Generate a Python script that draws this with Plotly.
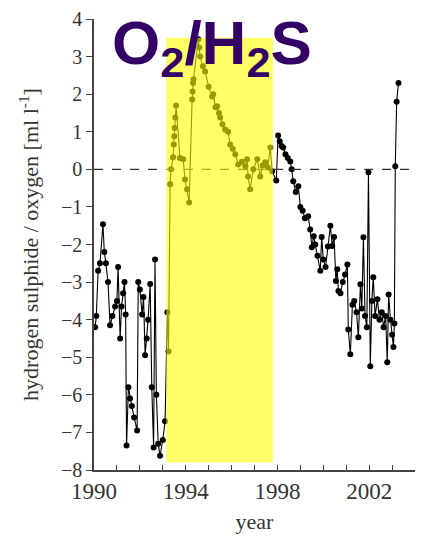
import plotly.graph_objects as go

# ---- data ----
years = [1990.05, 1990.1, 1990.18, 1990.26, 1990.39, 1990.45, 1990.52, 1990.61, 1990.7, 1990.8,
         1990.92, 1991.0, 1991.05, 1991.14, 1991.2, 1991.27, 1991.33, 1991.38, 1991.42, 1991.5,
         1991.57, 1991.65, 1991.75, 1991.88, 1991.93, 1992.0, 1992.1, 1992.16, 1992.23, 1992.3,
         1992.36, 1992.45, 1992.52, 1992.6, 1992.66, 1992.72, 1992.8, 1992.88, 1993.0, 1993.1,
         1993.2, 1993.25, 1993.32, 1993.36, 1993.45, 1993.48, 1993.5, 1993.52, 1993.55, 1993.58,
         1993.75, 1993.89, 1993.97, 1994.06, 1994.15, 1994.28, 1994.3, 1994.32, 1994.34, 1994.55,
         1994.59, 1994.63, 1994.75, 1994.85, 1995.0, 1995.15, 1995.2, 1995.3, 1995.37, 1995.45,
         1995.5, 1995.6, 1995.72, 1995.85, 1995.94, 1996.05, 1996.16, 1996.29, 1996.45, 1996.6,
         1996.68, 1996.72, 1996.81, 1996.95, 1997.12, 1997.25, 1997.35, 1997.47, 1997.58, 1997.69,
         1997.77, 1997.95, 1998.03, 1998.1, 1998.18, 1998.25, 1998.35, 1998.45, 1998.56, 1998.62,
         1998.69, 1998.8, 1998.91, 1999.0, 1999.1, 1999.2, 1999.34, 1999.43, 1999.5, 1999.58,
         1999.65, 1999.75, 1999.87, 1999.93, 2000.0, 2000.1, 2000.2, 2000.31, 2000.39, 2000.47,
         2000.55, 2000.61, 2000.66, 2000.75, 2000.85, 2000.95, 2001.05, 2001.09, 2001.18, 2001.27,
         2001.35, 2001.45, 2001.53, 2001.62, 2001.68, 2001.75, 2001.82, 2001.9, 2001.97, 2002.05,
         2002.12, 2002.18, 2002.26, 2002.36, 2002.45, 2002.55, 2002.63, 2002.72, 2002.79, 2002.85,
         2002.93, 2003.0, 2003.06, 2003.1, 2003.14, 2003.2, 2003.28]

values = [-4.2, -3.9, -2.7, -2.5, -1.46, -2.2, -2.5, -3.0, -4.15, -3.9,
          -3.65, -3.5, -2.6, -4.5, -3.65, -3.3, -3.0, -3.86, -7.35, -5.8,
          -6.1, -6.3, -6.6, -6.95, -3.0, -3.2, -3.86, -3.4, -4.95, -4.5,
          -4.0, -3.05, -5.8, -7.4, -2.4, -6.0, -7.3, -7.62, -7.2, -6.7,
          -3.8, -4.85, -0.4, 0.0, 0.32, 0.66, 0.88, 1.1, 1.38, 1.7,
          0.3, 0.27, -0.27, -0.53, -0.88, 1.86, 2.07, 2.3, 2.4, 3.46,
          3.24, 3.0, 2.74, 2.6, 2.2, 1.94, 2.0, 1.65, 1.68, 1.5,
          1.38, 1.2, 1.06, 1.0, 0.66, 0.55, 0.4, 0.13, 0.2, 0.08,
          0.27, -0.19, -0.53, 0.0, 0.27, -0.19, 0.1, 0.19, 0.05, 0.58,
          -0.05, -0.3, 0.9, 0.75, 0.62, 0.58, 0.4, 0.3, 0.21, 0.0,
          -0.32, -0.6, -0.45, -1.0, -1.1, -1.3, -1.25, -1.6, -2.07, -1.78,
          -2.0, -2.3, -2.7, -1.8, -2.4, -2.6, -2.05, -1.5, -2.04, -1.8,
          -2.97, -2.66, -3.24, -3.3, -3.0, -2.8, -2.53, -4.26, -4.92, -3.6,
          -3.5, -3.8, -4.47, -3.06, -3.7, -1.81, -3.9, -4.2, -0.08, -5.24,
          -3.5, -2.87, -3.9, -3.46, -4.0, -3.8, -4.2, -3.9, -5.13, -3.33,
          -4.0, -4.4, -4.73, -4.1, 0.08, 1.8, 2.3]

x_tick_years = list(range(1990, 2005))
x_tick_labels = [str(y) if y in (1990, 1994, 1998, 2002) else "" for y in x_tick_years]
y_tick_vals = list(range(-8, 5))
shade_years = [1993.15, 1997.8]
shade_values = [-7.8, 3.5]

fig = go.Figure()

fig.add_trace(go.Scatter(
    x=years, y=values, mode="lines+markers",
    line=dict(color="black", width=1.1),
    marker=dict(color="black", size=6),
    showlegend=False, hoverinfo="skip",
))

# dashed zero line
fig.add_shape(type="line", xref="x", yref="y", x0=1990, x1=2004, y0=0, y1=0,
              line=dict(color="#333333", width=1.3, dash="dash"), layer="above")
# yellow highlight
fig.add_shape(type="rect", xref="x", yref="y",
              x0=shade_years[0], x1=shade_years[1], y0=shade_values[0], y1=shade_values[1],
              fillcolor="#FFFF00", opacity=0.6, line=dict(width=0), layer="above")

fig.add_annotation(
    text="O<sub>2</sub>/H<sub>2</sub>S", xref="paper", yref="paper",
    x=0.05, y=1.0, xanchor="left", yanchor="top", showarrow=False, yshift=13,
    font=dict(family="Liberation Sans, Arial", size=62, color="#330066", weight="bold"),
)

serif = "Liberation Serif, Times New Roman, serif"
fig.update_layout(
    width=422, height=539,
    margin=dict(l=94, r=7, t=19, b=69),
    paper_bgcolor="white", plot_bgcolor="white",
    xaxis=dict(
        range=[1990, 2004], tickvals=x_tick_years, ticktext=x_tick_labels,
        ticks="inside", ticklen=5, tickcolor="#444", tickwidth=1.3,
        showline=True, linecolor="#444", linewidth=1.5, showgrid=False, zeroline=False,
        tickfont=dict(family=serif, size=23, color="#333"),
        title=dict(text="year", font=dict(family=serif, size=22, color="#333"), standoff=10),
    ),
    yaxis=dict(
        range=[-8, 4], tickvals=y_tick_vals,
        ticks="outside", ticklen=6, tickcolor="#444", tickwidth=1.3,
        showline=True, linecolor="#444", linewidth=1.5, showgrid=False, zeroline=False,
        tickfont=dict(family=serif, size=20, color="#333"),
        title=dict(text="hydrogen sulphide / oxygen [ml l<sup>-1</sup>]",
                   font=dict(family=serif, size=22, color="#333"), standoff=16),
    ),
)

fig.write_html("out.html")
